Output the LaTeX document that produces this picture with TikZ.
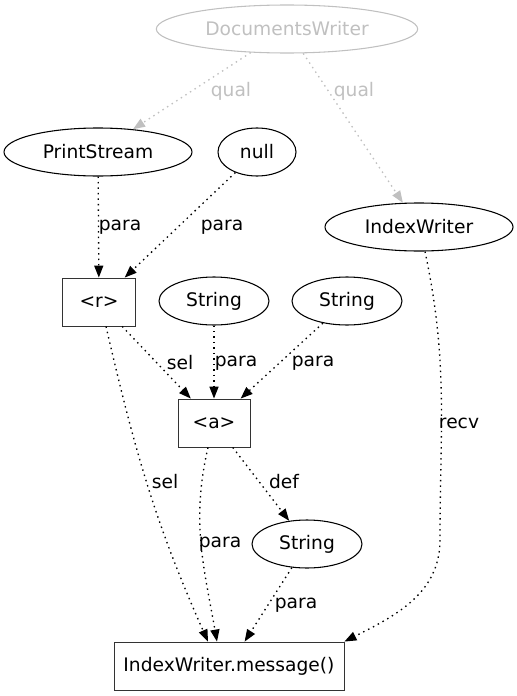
\documentclass[tikz,border=0pt]{standalone}
\usepackage{fontspec}
\setmainfont{DejaVu Sans}
\usetikzlibrary{positioning,calc,shapes.geometric,arrows.meta}
\definecolor{Faded}{HTML}{C0C0C0}

\begin{document}
\begin{tikzpicture}[x=0.75pt,y=-0.75pt,
    every node/.style={font=\fontsize{14}{16}\selectfont},
    oval/.style={draw,ellipse,line width=0.8pt,inner sep=0pt,minimum height=36pt},
    boxnode/.style={draw=black!80,rectangle,line width=0.65pt,inner sep=0pt,minimum height=36pt},
    link/.style={line width=1pt,dash pattern=on 1.1pt off 3pt,-{Triangle[length=9pt,width=6.8pt]}},
    lbl/.style={inner sep=0pt}]
    \useasboundingbox (0,0) rectangle (517,696);
    % nodes
    \node[oval,Faded,minimum width=196pt] (dw) at (287,29) {DocumentsWriter};
    \node[oval,minimum width=141pt] (ps) at (98,152) {PrintStream};
    \node[oval,minimum width=58.5pt] (nl) at (257,152) {null};
    \node[oval,minimum width=141pt] (iw) at (419,227) {IndexWriter};
    \node[boxnode,minimum width=54.75pt] (r) at (99,302) {<r>};
    \node[oval,minimum width=82.5pt] (s1) at (214,301) {String};
    \node[oval,minimum width=82.5pt] (s2) at (347,301) {String};
    \node[boxnode,minimum width=54pt] (a) at (214,423) {<a>};
    \node[oval,minimum width=82.5pt] (s3) at (307,544) {String};
    \node[boxnode,minimum width=172.5pt] (msg) at (229,666) {IndexWriter.message()};
    \coordinate (bend) at (440,540);
    % edges
    \draw[link,Faded] (dw) -- (ps);
    \draw[link,Faded] (dw) -- (iw);
    \draw[link] (ps) -- (r);
    \draw[link] (nl) -- (r);
    \draw[link] (r) -- (a);
    \draw[link] (s1) -- (a);
    \draw[link] (s2) -- (a);
    \draw[link] (a) -- (s3);
    \draw[link] (s3) -- (msg);
    \draw[link] ($(r.south)+(7,0)$) to[out=-77,in=114] ($(msg.north)+(-21,0)$);
    \draw[link] ($(a.south)+(-6,0)$) to[out=-103,in=100] ($(msg.north)+(-12,0)$);
    \draw[link] ($(iw.south)+(6,0)$) to[out=-78,in=90] (bend) to[out=-90,in=27] (msg.north east);
    % labels
    \node[lbl,text=Faded] (q1) at (231,91) {qual};
    \node[lbl,text=Faded] (q2) at (354,91) {qual};
    \foreach \nm/\x/\y/\txt in {l1/120/227/para,l2/222/227/para,l3/180/363/sel,
        l4/236/363/para,l5/313/363/para,l6/459/423/recv,l7/165/482/sel,
        l8/284/482/def,l9/220/544/para,l10/296/605/para}{
      \node[lbl] (\nm) at (\x,\y) {\txt};
    }
\end{tikzpicture}
\end{document}
